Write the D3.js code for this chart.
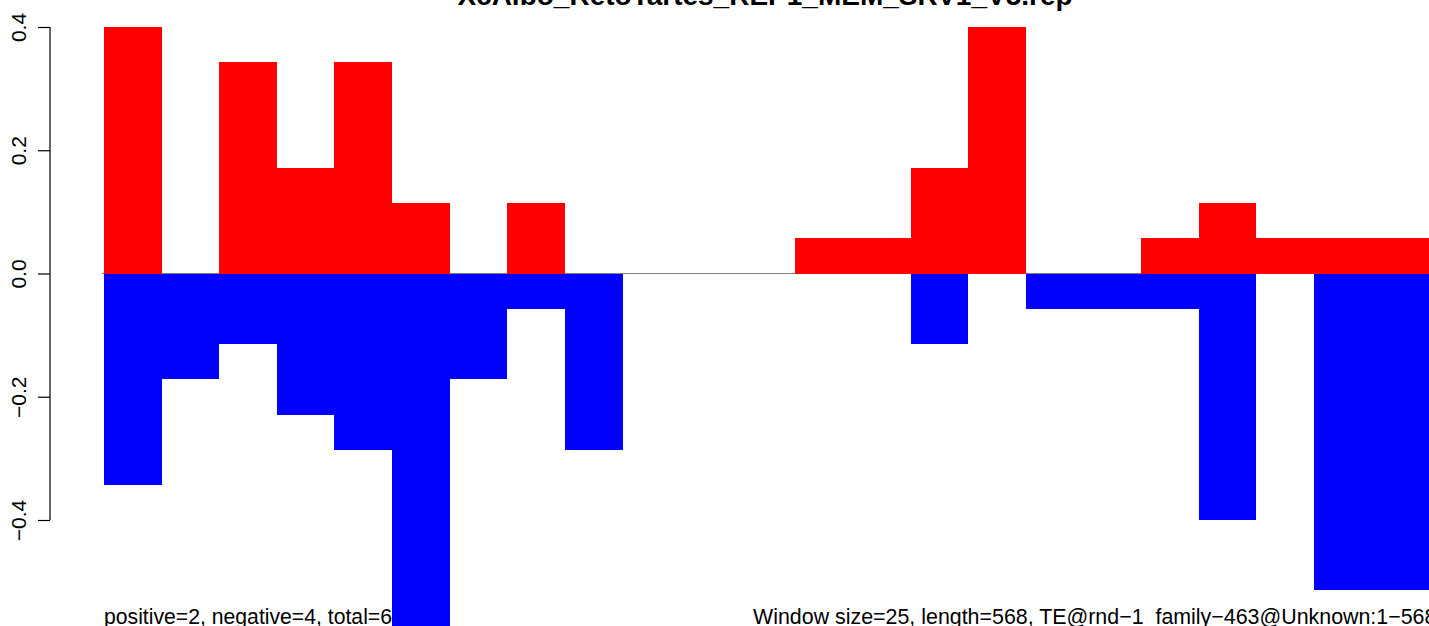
<!DOCTYPE html>
<html>
<head>
<meta charset="utf-8">
<script src="https://cdn.jsdelivr.net/npm/d3@7"></script>
<style>
  html, body { margin: 0; padding: 0; background: #fff; overflow: hidden; }
  text { font-family: "Liberation Sans", Arial, Helvetica, sans-serif; }
</style>
</head>
<body>
<svg id="chart" width="1429" height="626"></svg>
<script>
// ---- data ----
const titleText = "XcAlbo_RetoTartes_REP1_MEM_SRV1_V5.rep";
const windows = d3.range(1, 24); // 23 windows of size 25 over length 568
const positiveValues = [0.400, 0, 0.343, 0.171, 0.343, 0.114, 0, 0.114, 0, 0, 0, 0, 0.057, 0.057, 0.171, 0.400, 0, 0, 0.057, 0.114, 0.057, 0.057, 0.057];
const negativeValues = [-0.343, -0.171, -0.114, -0.229, -0.286, -0.629, -0.171, -0.057, -0.286, 0, 0, 0, 0, 0, -0.114, 0, -0.057, -0.057, -0.057, -0.400, 0, -0.514, -0.514];
const yTicks = [-0.4, -0.2, 0.0, 0.2, 0.4];
const leftNote = "positive=2, negative=4, total=6";
const rightNote = "Window size=25, length=568, TE@rnd\u22121_family\u2212463@Unknown:1\u2212568";

// ---- layout ----
const W = 1429, H = 626;
const svg = d3.select("#chart");

const x = d3.scaleBand().domain(windows).range([104, 104 + 23 * 57.62]).padding(0);
const y = d3.scaleLinear().domain([-0.4, 0.4]).range([520, 27]);

// bottom notes (drawn first, bars overlay them)
svg.append("text").attr("x", 104).attr("y", 624)
  .attr("font-size", 21.2).attr("fill", "#000").text(leftNote);
svg.append("text").attr("x", 753).attr("y", 624)
  .attr("font-size", 21.4).attr("fill", "#000").text(rightNote);

// zero line
svg.append("line")
  .attr("x1", 102).attr("x2", W)
  .attr("y1", y(0)).attr("y2", y(0))
  .attr("stroke", "#808080").attr("stroke-width", 1.2);

// positive bars
svg.append("g").selectAll("rect").data(windows.map((w, i) => ({w, v: positiveValues[i]})).filter(d => d.v > 0))
  .join("rect")
  .attr("x", d => x(d.w)).attr("width", x.bandwidth())
  .attr("y", d => y(d.v)).attr("height", d => y(0) - y(d.v))
  .attr("fill", "#ff0000").attr("shape-rendering", "crispEdges");

// negative bars
svg.append("g").selectAll("rect").data(windows.map((w, i) => ({w, v: negativeValues[i]})).filter(d => d.v < 0))
  .join("rect")
  .attr("x", d => x(d.w)).attr("width", x.bandwidth())
  .attr("y", y(0)).attr("height", d => y(d.v) - y(0))
  .attr("fill", "#0000ff").attr("shape-rendering", "crispEdges");

// y axis
const yAxis = d3.axisLeft(y).tickValues(yTicks).tickSize(12).tickPadding(12)
  .tickFormat(d3.format(".1f"));
const ga = svg.append("g").attr("transform", "translate(50,0)").call(yAxis);
ga.select(".domain").attr("stroke", "#000").attr("stroke-width", 1.2)
  .attr("d", `M0,${y(-0.4)}V${y(0.4)}`);
ga.selectAll(".tick line").attr("stroke", "#000").attr("stroke-width", 1.2);
ga.selectAll(".tick text")
  .attr("font-size", 21).attr("fill", "#000")
  .attr("font-family", "Liberation Sans, Arial, sans-serif")
  .attr("transform", "rotate(-90)")
  .attr("x", 0).attr("y", -24)
  .attr("dy", 0)
  .attr("text-anchor", "middle")
  .text(d => d3.format(".1f")(d).replace("-", "\u2212"));

// title (clipped at top like reference)
svg.append("text").attr("x", 765).attr("y", 5)
  .attr("text-anchor", "middle").attr("font-size", 28).attr("font-weight", "bold")
  .attr("fill", "#000").text(titleText);
</script>
</body>
</html>
